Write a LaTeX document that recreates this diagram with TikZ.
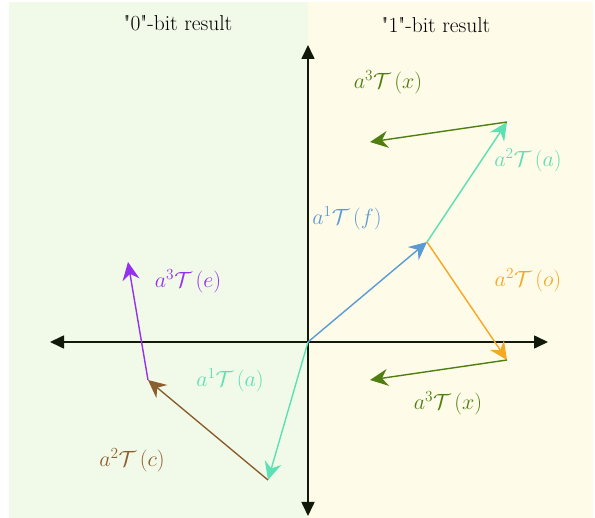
\RequirePackage{fix-cm}
\documentclass[tikz,border=0pt]{standalone}
\usepackage{amsmath}
\usepackage{xcolor}
\usetikzlibrary{arrows.meta}
\definecolor{zeroBg}{HTML}{F1FAE8}
\definecolor{oneBg}{HTML}{FEFBE8}
\definecolor{axisInk}{HTML}{111A0A}
\definecolor{vecBlue}{HTML}{5B9BD5}
\definecolor{vecTeal}{HTML}{5CE0B4}
\definecolor{vecGreen}{HTML}{4F7F10}
\definecolor{vecOrange}{HTML}{F5A823}
\definecolor{vecBrown}{HTML}{8B5E2E}
\definecolor{vecPurple}{HTML}{9430EE}
\tikzset{
    axisArrow/.style={
        {Triangle[length=14pt,width=13pt]}-{Triangle[length=14pt,width=13pt]},
        line width=1.6pt,
        draw=axisInk
    },
    vecArrow/.style={
        -{Stealth[length=18pt,width=17pt,inset=6pt]},
        line width=1.4pt
    },
    vecLabel/.style={
        font=\fontsize{22}{26}\selectfont
    },
    sideTitle/.style={
        font=\fontsize{21.5}{25}\selectfont
    }
}
\newcommand{\vlab}[2]{$a^{#1}\mathcal{T}\,(#2)$}

\begin{document}
\begin{tikzpicture}[x=1pt,y=-1pt]
        \useasboundingbox (0,0) rectangle (595,518);
        % result halves
        \fill[zeroBg] (9,2) rectangle (308,518);
        \fill[oneBg] (308,2) rectangle (593,518);
        \node[sideTitle] (zeroTitle) at (178,23) {\textquotedbl0\textquotedbl-bit result};
        \node[sideTitle] (oneTitle) at (436,25) {\textquotedbl1\textquotedbl-bit result};

        % axes
        \coordinate (O) at (308,342);
        \coordinate (xL) at (50,342);
        \coordinate (xR) at (548,342);
        \coordinate (yT) at (308,45);
        \coordinate (yB) at (308,516);
        \draw[axisArrow] (xL) -- (xR);
        \draw[axisArrow] (yB) -- (yT);

        % end points
        \coordinate (pf) at (427,242);
        \coordinate (pa) at (507,122);
        \coordinate (px) at (370,142);
        \coordinate (po) at (507,360);
        \coordinate (pxb) at (370,380);
        \coordinate (pa1) at (268,480);
        \coordinate (pc) at (148,380);
        \coordinate (pe) at (128,262);

        % "1" branch
        \draw[vecArrow,vecBlue] (O) -- (pf);
        \draw[vecArrow,vecTeal] (pf) -- (pa);
        \draw[vecArrow,vecGreen] (pa) -- (px);
        \draw[vecArrow,vecOrange] (pf) -- (po);
        \draw[vecArrow,vecGreen] (po) -- (pxb);

        % "0" branch
        \draw[vecArrow,vecTeal] (O) -- (pa1);
        \draw[vecArrow,vecBrown] (pa1) -- (pc);
        \draw[vecArrow,vecPurple] (pc) -- (pe);

        % labels
        \node[vecLabel,text=vecGreen] (lx) at (388,82) {\vlab{3}{x}};
        \node[vecLabel,text=vecTeal] (la) at (528,160) {\vlab{2}{a}};
        \node[vecLabel,text=vecBlue] (lf) at (347,218) {\vlab{1}{f}};
        \node[vecLabel,text=vecOrange] (lo) at (528,280) {\vlab{2}{o}};
        \node[vecLabel,text=vecGreen] (lxb) at (448,403) {\vlab{3}{x}};
        \node[vecLabel,text=vecPurple] (le) at (188,281) {\vlab{3}{e}};
        \node[vecLabel,text=vecTeal] (la1) at (230,380) {\vlab{1}{a}};
        \node[vecLabel,text=vecBrown] (lc) at (132,460) {\vlab{2}{c}};
    \end{tikzpicture}
\end{document}
